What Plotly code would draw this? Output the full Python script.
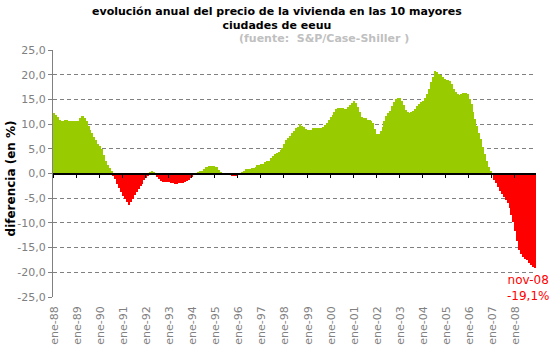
import plotly.graph_objects as go

# ---------------- data ----------------
months_es = ["ene", "feb", "mar", "abr", "may", "jun", "jul", "ago", "sep", "oct", "nov", "dic"]
start_year = 1988

v1988 = [12.2, 11.9, 11.4, 10.9, 10.6, 10.6, 10.9, 10.9, 10.7, 10.7, 10.6, 10.6]
v1989 = [10.7, 10.7, 11.3, 11.6, 11.3, 10.6, 9.7, 8.9, 8.1, 7.4, 6.7, 6.0]
v1990 = [5.5, 4.9, 3.8, 2.6, 1.8, 1.2, 0.6, -0.5, -1.1, -2.1, -3.0, -3.8]
v1991 = [-4.5, -5.1, -5.8, -6.4, -5.8, -5.1, -4.3, -3.8, -3.1, -2.6, -2.1, -1.4]
v1992 = [-0.9, -0.5, 0.3, 0.6, 0.4, -0.3, -0.8, -1.1, -1.6, -1.8, -1.8, -1.8]
v1993 = [-1.8, -1.9, -2.0, -2.1, -2.1, -2.0, -1.9, -1.9, -1.7, -1.5, -1.3, -1.0]
v1994 = [-0.7, -0.4, -0.1, 0.2, 0.6, 0.6, 1.0, 1.4, 1.4, 1.6, 1.6, 1.5]
v1995 = [1.4, 1.4, 0.8, 0.4, 0.1, -0.3, -0.3, -0.3, -0.3, -0.5, -0.5, -0.5]
v1996 = [-0.4, -0.3, 0.2, 0.5, 1.0, 1.0, 1.0, 1.2, 1.2, 1.4, 1.7, 1.8]
v1997 = [2.0, 2.0, 2.4, 2.5, 2.6, 3.2, 3.6, 3.9, 4.1, 4.3, 4.7, 5.2]
v1998 = [6.0, 6.8, 7.2, 7.6, 8.2, 8.6, 9.2, 9.5, 10.0, 9.7, 9.5, 9.1]
v1999 = [8.9, 8.9, 8.9, 9.2, 9.2, 9.3, 9.3, 9.3, 9.5, 9.8, 10.3, 10.8]
v2000 = [11.4, 11.8, 12.4, 13.0, 13.3, 13.3, 13.3, 13.1, 13.1, 13.5, 13.8, 14.2]
v2001 = [14.6, 14.3, 13.4, 12.5, 11.4, 11.2, 11.2, 10.9, 10.9, 10.7, 10.2, 9.0]
v2002 = [8.0, 7.9, 8.6, 9.5, 10.7, 11.7, 12.2, 12.7, 13.6, 14.4, 15.0, 15.3]
v2003 = [15.3, 14.6, 13.8, 12.8, 12.5, 12.2, 12.5, 12.7, 13.0, 13.6, 14.1, 14.4]
v2004 = [14.7, 15.2, 16.1, 17.2, 18.5, 19.5, 20.7, 20.6, 20.2, 19.9, 19.5, 19.1]
v2005 = [18.9, 18.9, 18.7, 18.2, 17.2, 16.4, 16.0, 15.9, 16.1, 16.3, 16.3, 16.0]
v2006 = [15.1, 14.1, 12.4, 11.1, 9.7, 8.3, 7.0, 5.3, 3.9, 2.6, 1.4, 0.5]
v2007 = [-0.4, -1.3, -2.0, -2.8, -3.6, -4.2, -4.7, -5.3, -6.0, -7.0, -8.5, -9.9]
v2008 = [-11.7, -13.7, -15.5, -16.3, -16.9, -17.3, -17.6, -18.1, -18.6, -18.9, -19.1]

values = (v1988 + v1989 + v1990 + v1991 + v1992 + v1993 + v1994 + v1995 + v1996 + v1997
          + v1998 + v1999 + v2000 + v2001 + v2002 + v2003 + v2004 + v2005 + v2006 + v2007 + v2008)

categories = [f"{months_es[i % 12]}-{str(start_year + i // 12)[2:]}" for i in range(len(values))]
idx = list(range(len(values)))

y_ticks = [25, 20, 15, 10, 5, 0, -5, -10, -15, -20, -25]
y_ticktext = [f"{t:.1f}".replace(".", ",") for t in y_ticks]

jan_idx = [i for i in idx if i % 12 == 0]
x_ticktext = [categories[i] for i in jan_idx]
year_bounds = [i - 0.5 for i in jan_idx]

title_text = "evolución anual del precio de la vivienda en las 10 mayores<br>ciudades de eeuu"
subtitle_text = "(fuente:  S&amp;P/Case-Shiller )"
ytitle_text = "diferencia (en %)"

# ---------------- styling ----------------
GREEN = "#99CC00"
RED = "#FF0000"
GRAY = "#808080"
FONT = "DejaVu Sans, Verdana, sans-serif"

colors = [GREEN if v >= 0 else RED for v in values]

fig = go.Figure()
fig.add_trace(go.Bar(x=idx, y=values, marker=dict(color=colors, line=dict(width=0)),
                     width=1, hoverinfo="skip", showlegend=False))
# invisible helper trace so the zero-line axis (x2) is drawn
fig.add_trace(go.Scatter(x=[idx[0]], y=[0], xaxis="x2", mode="markers",
                         marker=dict(opacity=0), hoverinfo="skip", showlegend=False))

xr = [idx[0] - 0.5, idx[-1] + 0.5]
PW, PH = 483, 247  # plot area size in px

fig.update_layout(
    width=554, height=359,
    margin=dict(l=53, r=18, t=50, b=62, pad=0),
    paper_bgcolor="white", plot_bgcolor="white",
    bargap=0, showlegend=False,
    font=dict(family=FONT, size=11, color=GRAY),
    xaxis=dict(range=xr, tickmode="array", tickvals=jan_idx, ticktext=x_ticktext,
               tickangle=-90, ticks="", showline=False, showgrid=False, zeroline=False,
               tickfont=dict(family=FONT, size=11, color=GRAY), ticklabelstandoff=6),
    xaxis2=dict(range=xr, overlaying="x", anchor="free", position=0.5, side="bottom",
                showline=True, linecolor="black", linewidth=1.5,
                tickmode="array", tickvals=year_bounds, ticks="outside", ticklen=4,
                tickcolor="black", tickwidth=1, showticklabels=False,
                showgrid=False, zeroline=False),
    yaxis=dict(range=[-25, 25], tickmode="array", tickvals=y_ticks, ticktext=y_ticktext,
               showline=True, linecolor=GRAY, linewidth=1, ticks="outside", ticklen=4,
               tickcolor=GRAY, showgrid=True, gridcolor=GRAY, gridwidth=1,
               griddash="4px,3px", zeroline=False,
               tickfont=dict(family=FONT, size=11, color=GRAY)),
)

# title (two lines)
fig.add_annotation(text="<b>" + title_text + "</b>", xref="paper", yref="paper",
                   x=(277 - 53) / PW, y=(297 - 3) / PH, xanchor="center", yanchor="top",
                   showarrow=False, align="center",
                   font=dict(family=FONT, size=11, color="black"))

fig.add_annotation(text="<b>" + subtitle_text + "</b>", xref="paper", yref="paper",
                   x=(324 - 53) / PW, y=(297 - 38) / PH, xanchor="center", yanchor="middle",
                   showarrow=False, font=dict(family=FONT, size=11, color="#C0C0C0"))

fig.add_annotation(text="<b>" + ytitle_text + "</b>", xref="paper", yref="paper",
                   x=(11 - 53) / PW, y=0.48, xanchor="center", yanchor="middle",
                   textangle=-90, showarrow=False,
                   font=dict(family=FONT, size=12, color="black"))

last_label = f"{values[-1]:.1f}".replace(".", ",") + "%"
fig.add_annotation(text=categories[-1] + "<br>" + last_label, x=idx[-1], y=values[-1],
                   xref="x", yref="y", xanchor="center", yanchor="top",
                   xshift=-7, yshift=-3, showarrow=False,
                   font=dict(family=FONT, size=12, color=RED))

fig.write_html("out.html", config={"displayModeBar": False},
               post_script="document.body.style.margin='0px';")
